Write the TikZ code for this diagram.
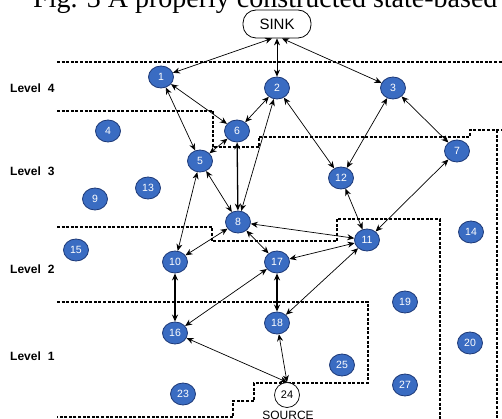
\documentclass[tikz,border=0pt]{standalone}
\usepackage{fontspec}
\setmainfont{Liberation Serif}
\newfontfamily\arialf{Liberation Sans}
\usetikzlibrary{arrows.meta,shapes.geometric}
\definecolor{nodeblue}{RGB}{58,108,194}
\definecolor{navyline}{RGB}{28,56,118}
\begin{document}
\begin{tikzpicture}[x=1pt,y=-1pt,
 nd/.style={ellipse, draw=navyline, line width=0.8pt, fill=nodeblue, minimum width=25pt, minimum height=22pt, inner sep=0pt, text=white, font=\arialf\fontsize{10.5}{10.5}\selectfont},
 lvl/.style={anchor=west, inner sep=0pt, font=\arialf\bfseries\fontsize{12}{12}\selectfont},
 bnd/.style={draw, line width=1.1pt, dash pattern=on 3pt off 1.6pt},
 lnk/.style={{Stealth[length=7pt,width=6pt]}-{Stealth[length=7pt,width=6pt]}, line width=0.7pt},
 heavy/.style={line width=1.3pt}
]
\useasboundingbox (0,0) rectangle (502,419);
\clip (0,0) rectangle (502,419);
\fill[white] (0,0) rectangle (502,419);

% caption (cut off at top)
\node[anchor=base west, inner sep=0pt, font=\fontsize{28}{28}\selectfont] (cap) at (33,8) {Fig. 3 A properly constructed state-based};

% level boundaries
\draw[bnd] (57,62) -- (502,62);
\draw[bnd] (57,111) -- (213,111) -- (213,147) -- (259,147) -- (259,137) -- (470,137) -- (470,130) -- (502,130);
\draw[bnd] (497,130) -- (497,419);
\draw[bnd] (57,227) -- (212,227) -- (212,241) -- (337,241) -- (337,219) -- (440,219) -- (440,419);
\draw[bnd] (57,302) -- (368,302) -- (368,383) -- (254,383) -- (254,401) -- (233,401) -- (233,417) -- (57,417);

% level labels
\node[lvl] (l4) at (10,88) {Level\hspace{7pt}4};
\node[lvl] (l3) at (10,171) {Level\hspace{7pt}3};
\node[lvl] (l2) at (10,269) {Level\hspace{7pt}2};
\node[lvl] (l1) at (10,356) {Level\hspace{7pt}1};

% sink
\node[draw, rounded corners=13pt, line width=0.8pt, fill=white, minimum width=68pt, minimum height=28pt, inner sep=0pt, font=\arialf\fontsize{15}{15}\selectfont] (sink) at (277,24) {SINK};

% nodes
\node[nd] (n1) at (161,77) {1};
\node[nd] (n2) at (277,88) {2};
\node[nd] (n3) at (393,88) {3};
\node[nd] (n4) at (108,131) {4};
\node[nd] (n6) at (237,131) {6};
\node[nd] (n5) at (200,161) {5};
\node[nd] (n7) at (457,151) {7};
\node[nd] (n12) at (341,178) {12};
\node[nd] (n13) at (148,188) {13};
\node[nd] (n9) at (95,199) {9};
\node[nd] (n8) at (238,222) {8};
\node[nd] (n11) at (367,240) {11};
\node[nd] (n14) at (471,232) {14};
\node[nd] (n15) at (76,250) {15};
\node[nd] (n10) at (175,262) {10};
\node[nd] (n17) at (277,262) {17};
\node[nd] (n19) at (405,302) {19};
\node[nd] (n16) at (175,333) {16};
\node[nd] (n18) at (277,323) {18};
\node[nd] (n20) at (470,343) {20};
\node[nd] (n25) at (342,365) {25};
\node[nd] (n27) at (405,385) {27};
\node[nd] (n23) at (183,394) {23};
\node[circle, draw, line width=0.7pt, fill=white, minimum size=25pt, inner sep=0pt, font=\arialf\fontsize{11}{11}\selectfont] (n24) at (287,395) {24};
\node[inner sep=0pt, anchor=north, font=\arialf\fontsize{12}{12}\selectfont] (src) at (288,411) {SOURCE};

% links
\draw[lnk] ([xshift=-5pt]sink.south) -- (n1);
\draw[lnk] (sink.south) -- (n2);
\draw[lnk] ([xshift=5pt]sink.south) -- (n3);
\draw[lnk] (n1) -- (n6);
\draw[lnk] (n1) -- (n5);
\draw[lnk] (n2) -- (n6);
\draw[lnk] (n2) -- (n8);
\draw[lnk] (n2) -- (n12);
\draw[lnk] (n3) -- (n12);
\draw[lnk] (n3) -- (n7);
\draw[lnk] (n6) -- (n5);
\draw[lnk,heavy] (n6) -- (n8);
\draw[lnk] (n5) -- (n8);
\draw[lnk] (n5) -- (n10);
\draw[lnk] (n12) -- (n11);
\draw[lnk] (n7) -- (n11);
\draw[lnk] (n8) -- (n11);
\draw[lnk] (n8) -- (n10);
\draw[lnk] (n8) -- (n17);
\draw[lnk] (n11) -- (n17);
\draw[lnk] (n11) -- (n18);
\draw[lnk,heavy] (n10) -- (n16);
\draw[lnk] (n17) -- (n16);
\draw[lnk,heavy] (n17) -- (n18);
\draw[lnk] (n16) -- (n24.north);
\draw[lnk] (n18) -- (n24.north);
\end{tikzpicture}
\end{document}
